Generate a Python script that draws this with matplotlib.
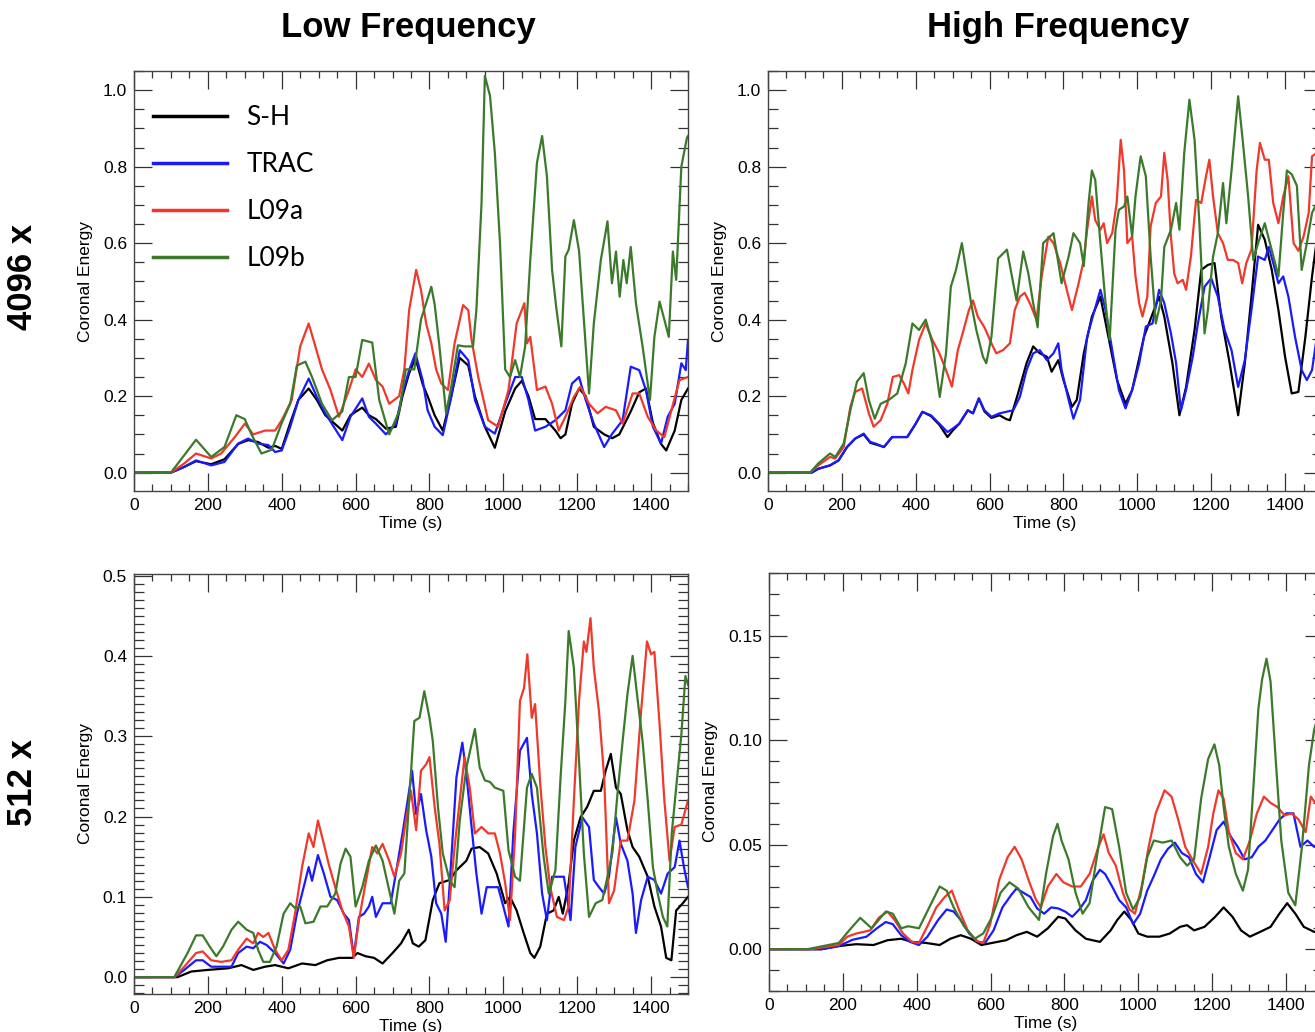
import matplotlib
matplotlib.use("Agg")
import matplotlib.pyplot as plt
from matplotlib.ticker import MultipleLocator, FormatStrFormatter

plt.rcParams['font.family'] = ['Liberation Sans', 'DejaVu Sans']

labels = ['S-H', 'TRAC', 'L09a', 'L09b']
colors = ['#000000', '#1a1aff', '#f0382b', '#3b7a2a']

# (time [s], coronal energy) samples, low frequency heating, 4096 x
lf4096_sh = [(0, 0), (100, 0), (136, 0.015), (168, 0.03), (209, 0.022), (245, 0.035), (282, 0.075), (309, 0.085),
             (336, 0.08), (364, 0.065), (382, 0.07), (400, 0.062), (423, 0.13), (445, 0.19), (473, 0.22), (495, 0.19),
             (518, 0.15), (541, 0.13), (564, 0.11), (586, 0.15), (618, 0.17), (636, 0.15), (655, 0.14), (682, 0.115),
             (709, 0.12), (727, 0.2), (745, 0.26), (762, 0.3), (782, 0.23), (795, 0.2), (814, 0.15), (836, 0.11),
             (859, 0.2), (882, 0.3), (905, 0.28), (923, 0.2), (950, 0.12), (977, 0.065), (1005, 0.16), (1032, 0.22),
             (1050, 0.24), (1068, 0.2), (1086, 0.14), (1114, 0.14), (1141, 0.11), (1155, 0.09), (1168, 0.1),
             (1186, 0.18), (1205, 0.22), (1223, 0.2), (1245, 0.12), (1273, 0.1), (1295, 0.09), (1314, 0.1),
             (1345, 0.16), (1368, 0.21), (1386, 0.22), (1405, 0.13), (1427, 0.075), (1441, 0.058), (1464, 0.11),
             (1482, 0.19), (1500, 0.22)]
lf4096_trac = [(0, 0), (100, 0), (136, 0.015), (168, 0.032), (209, 0.019), (245, 0.028), (282, 0.076), (309, 0.089),
               (336, 0.076), (364, 0.072), (382, 0.054), (400, 0.058), (423, 0.12), (445, 0.19), (473, 0.246),
               (495, 0.198), (518, 0.155), (541, 0.12), (564, 0.085), (586, 0.146), (618, 0.194), (636, 0.146),
               (655, 0.128), (682, 0.10), (709, 0.128), (727, 0.207), (745, 0.268), (762, 0.312), (782, 0.24),
               (795, 0.163), (814, 0.12), (836, 0.098), (859, 0.198), (882, 0.32), (905, 0.294), (923, 0.19),
               (950, 0.12), (977, 0.102), (1005, 0.18), (1032, 0.25), (1050, 0.25), (1068, 0.19), (1086, 0.11),
               (1114, 0.12), (1141, 0.137), (1168, 0.163), (1186, 0.233), (1205, 0.25), (1223, 0.19), (1245, 0.128),
               (1273, 0.067), (1295, 0.102), (1323, 0.137), (1345, 0.277), (1368, 0.268), (1386, 0.216), (1405, 0.12),
               (1427, 0.076), (1445, 0.146), (1464, 0.18), (1482, 0.286), (1494, 0.268), (1500, 0.347)]
lf4096_l09a = [(0, 0), (100, 0), (136, 0.024), (168, 0.05), (209, 0.037), (236, 0.05), (273, 0.093), (300, 0.128),
               (323, 0.10), (355, 0.11), (382, 0.11), (400, 0.137), (427, 0.19), (450, 0.33), (473, 0.39), (491, 0.33),
               (509, 0.27), (532, 0.216), (555, 0.146), (582, 0.216), (600, 0.27), (618, 0.25), (636, 0.285),
               (655, 0.242), (673, 0.225), (691, 0.18), (718, 0.20), (732, 0.27), (745, 0.425), (764, 0.53),
               (777, 0.478), (791, 0.39), (805, 0.338), (818, 0.27), (832, 0.233), (850, 0.216), (868, 0.338),
               (891, 0.438), (905, 0.425), (914, 0.347), (932, 0.25), (959, 0.137), (986, 0.12), (1014, 0.216),
               (1036, 0.39), (1057, 0.443), (1064, 0.338), (1073, 0.355), (1091, 0.216), (1114, 0.225), (1132, 0.18),
               (1150, 0.11), (1168, 0.146), (1191, 0.198), (1209, 0.225), (1232, 0.18), (1255, 0.155), (1277, 0.172),
               (1305, 0.163), (1323, 0.128), (1350, 0.207), (1368, 0.207), (1391, 0.146), (1414, 0.11), (1436, 0.093),
               (1455, 0.163), (1477, 0.242), (1500, 0.25)]
lf4096_l09b = [(0, 0), (100, 0), (168, 0.086), (209, 0.041), (245, 0.067), (277, 0.15), (300, 0.14), (318, 0.10),
               (345, 0.05), (373, 0.06), (400, 0.13), (423, 0.18), (441, 0.28), (464, 0.29), (482, 0.25), (509, 0.18),
               (536, 0.137), (564, 0.16), (582, 0.25), (600, 0.25), (618, 0.347), (645, 0.34), (664, 0.19),
               (691, 0.10), (718, 0.16), (736, 0.27), (759, 0.27), (777, 0.40), (805, 0.486), (814, 0.44), (827, 0.33),
               (845, 0.155), (859, 0.225), (877, 0.333), (895, 0.33), (918, 0.33), (927, 0.425), (941, 0.705),
               (950, 1.037), (964, 0.985), (977, 0.836), (991, 0.60), (1005, 0.27), (1018, 0.25), (1032, 0.294),
               (1045, 0.25), (1059, 0.33), (1073, 0.556), (1091, 0.81), (1105, 0.88), (1118, 0.775), (1132, 0.53),
               (1143, 0.434), (1157, 0.33), (1168, 0.565), (1177, 0.583), (1191, 0.66), (1205, 0.58), (1218, 0.40),
               (1232, 0.207), (1245, 0.39), (1264, 0.556), (1282, 0.657), (1294, 0.495), (1305, 0.578), (1315, 0.46),
               (1325, 0.556), (1334, 0.495), (1345, 0.59), (1359, 0.443), (1377, 0.33), (1397, 0.19), (1409, 0.355),
               (1423, 0.447), (1436, 0.40), (1448, 0.355), (1459, 0.578), (1468, 0.504), (1482, 0.80), (1497, 0.875),
               (1500, 0.88)]

# high frequency heating, 4096 x
hf4096_sh = [(0, 0), (118, 0), (136, 0.01), (168, 0.019), (191, 0.032), (214, 0.067), (236, 0.089), (259, 0.10),
             (277, 0.078), (291, 0.074), (314, 0.067), (336, 0.093), (359, 0.093), (377, 0.093), (400, 0.128),
             (418, 0.159), (441, 0.148), (464, 0.125), (486, 0.093), (500, 0.11), (518, 0.128), (541, 0.163),
             (555, 0.155), (571, 0.194), (586, 0.16), (605, 0.143), (627, 0.15), (645, 0.14), (655, 0.137),
             (677, 0.207), (700, 0.286), (718, 0.33), (736, 0.312), (755, 0.303), (768, 0.264), (786, 0.294),
             (800, 0.242), (823, 0.172), (836, 0.19), (855, 0.312), (877, 0.408), (900, 0.46), (918, 0.373),
             (945, 0.242), (968, 0.18), (986, 0.216), (1018, 0.355), (1045, 0.425), (1059, 0.46), (1073, 0.408),
             (1095, 0.286), (1114, 0.15), (1132, 0.224), (1155, 0.373), (1173, 0.53), (1191, 0.543), (1209, 0.548),
             (1227, 0.408), (1250, 0.286), (1273, 0.15), (1291, 0.286), (1309, 0.46), (1327, 0.648), (1345, 0.609),
             (1364, 0.53), (1382, 0.425), (1400, 0.303), (1418, 0.207), (1436, 0.211), (1455, 0.355), (1473, 0.513),
             (1486, 0.609), (1500, 0.65)]
hf4096_trac = [(0, 0), (118, 0), (136, 0.01), (168, 0.019), (191, 0.032), (214, 0.067), (236, 0.089), (259, 0.102),
               (277, 0.08), (291, 0.076), (314, 0.067), (336, 0.093), (359, 0.093), (377, 0.093), (400, 0.128),
               (418, 0.159), (441, 0.15), (464, 0.128), (486, 0.106), (500, 0.115), (518, 0.128), (541, 0.163),
               (555, 0.155), (571, 0.194), (586, 0.163), (605, 0.146), (627, 0.155), (645, 0.159), (664, 0.163),
               (682, 0.198), (700, 0.268), (718, 0.312), (736, 0.32), (755, 0.294), (773, 0.312), (786, 0.338),
               (795, 0.268), (814, 0.19), (827, 0.141), (845, 0.19), (864, 0.355), (882, 0.417), (900, 0.478),
               (914, 0.425), (932, 0.32), (950, 0.216), (968, 0.168), (986, 0.216), (1005, 0.286), (1023, 0.382),
               (1041, 0.39), (1059, 0.478), (1073, 0.443), (1091, 0.364), (1105, 0.286), (1118, 0.163), (1132, 0.216),
               (1150, 0.303), (1164, 0.39), (1182, 0.486), (1200, 0.508), (1218, 0.46), (1236, 0.373), (1255, 0.32),
               (1273, 0.224), (1291, 0.294), (1309, 0.425), (1327, 0.565), (1345, 0.556), (1356, 0.59), (1368, 0.548),
               (1382, 0.495), (1395, 0.513), (1409, 0.46), (1427, 0.355), (1445, 0.268), (1459, 0.242), (1473, 0.268),
               (1486, 0.355), (1500, 0.40)]
hf4096_l09a = [(0, 0), (114, 0), (136, 0.019), (168, 0.041), (182, 0.037), (205, 0.067), (223, 0.172), (236, 0.211),
               (255, 0.22), (273, 0.155), (286, 0.12), (305, 0.137), (323, 0.18), (338, 0.25), (355, 0.255),
               (368, 0.233), (380, 0.207), (391, 0.268), (409, 0.347), (427, 0.39), (445, 0.347), (464, 0.312),
               (482, 0.268), (498, 0.225), (514, 0.32), (527, 0.364), (544, 0.425), (555, 0.45), (568, 0.408),
               (586, 0.38), (605, 0.338), (618, 0.312), (636, 0.32), (655, 0.338), (668, 0.425), (682, 0.46),
               (695, 0.47), (709, 0.443), (727, 0.40), (741, 0.513), (759, 0.617), (773, 0.60), (791, 0.548),
               (809, 0.478), (823, 0.425), (841, 0.495), (855, 0.556), (864, 0.635), (877, 0.722), (886, 0.66),
               (900, 0.635), (909, 0.652), (918, 0.60), (932, 0.626), (944, 0.705), (955, 0.87), (964, 0.79),
               (973, 0.60), (986, 0.617), (995, 0.513), (1005, 0.443), (1014, 0.408), (1027, 0.46), (1036, 0.644),
               (1050, 0.705), (1064, 0.722), (1073, 0.836), (1082, 0.765), (1091, 0.617), (1100, 0.52), (1109, 0.495),
               (1123, 0.504), (1132, 0.478), (1145, 0.565), (1159, 0.713), (1173, 0.705), (1186, 0.775), (1195, 0.818),
               (1205, 0.722), (1218, 0.626), (1232, 0.60), (1245, 0.556), (1259, 0.556), (1273, 0.548), (1284, 0.495),
               (1295, 0.548), (1309, 0.583), (1323, 0.79), (1332, 0.862), (1345, 0.818), (1356, 0.818), (1368, 0.705),
               (1382, 0.652), (1395, 0.722), (1409, 0.775), (1423, 0.60), (1436, 0.58), (1450, 0.617), (1464, 0.679),
               (1473, 0.827), (1486, 0.836), (1500, 0.83)]
hf4096_l09b = [(0, 0), (114, 0), (136, 0.024), (168, 0.05), (182, 0.041), (205, 0.076), (223, 0.163), (241, 0.238),
               (259, 0.26), (273, 0.19), (289, 0.141), (305, 0.18), (327, 0.19), (350, 0.207), (373, 0.286),
               (391, 0.39), (409, 0.373), (427, 0.40), (445, 0.338), (465, 0.198), (482, 0.312), (495, 0.486),
               (509, 0.53), (525, 0.60), (536, 0.53), (550, 0.443), (564, 0.373), (582, 0.303), (591, 0.286),
               (605, 0.355), (623, 0.56), (647, 0.583), (664, 0.495), (673, 0.45), (691, 0.578), (705, 0.52),
               (718, 0.443), (730, 0.38), (745, 0.60), (773, 0.626), (795, 0.495), (814, 0.565), (827, 0.626),
               (845, 0.60), (855, 0.54), (868, 0.705), (877, 0.79), (886, 0.765), (900, 0.60), (914, 0.443),
               (925, 0.347), (941, 0.635), (950, 0.687), (964, 0.696), (973, 0.722), (986, 0.617), (995, 0.722),
               (1009, 0.827), (1023, 0.775), (1036, 0.565), (1050, 0.39), (1064, 0.45), (1073, 0.59), (1091, 0.635),
               (1105, 0.705), (1114, 0.635), (1127, 0.836), (1141, 0.975), (1155, 0.87), (1168, 0.652), (1182, 0.364),
               (1191, 0.425), (1205, 0.565), (1218, 0.626), (1232, 0.757), (1241, 0.652), (1255, 0.79), (1273, 0.984),
               (1286, 0.862), (1300, 0.722), (1314, 0.556), (1327, 0.60), (1345, 0.652), (1359, 0.60), (1373, 0.548),
               (1382, 0.513), (1395, 0.679), (1405, 0.79), (1418, 0.78), (1432, 0.75), (1445, 0.53), (1459, 0.60),
               (1473, 0.679), (1486, 0.705), (1500, 0.71)]

# low frequency heating, 512 x
lf512_sh = [(0, 0), (118, 0), (155, 0.007), (200, 0.009), (255, 0.011), (291, 0.015), (323, 0.009), (355, 0.013),
            (382, 0.015), (418, 0.011), (455, 0.017), (491, 0.015), (523, 0.021), (555, 0.024), (591, 0.024),
            (605, 0.03), (627, 0.026), (650, 0.024), (673, 0.017), (700, 0.03), (723, 0.042), (744, 0.059),
            (755, 0.042), (771, 0.038), (789, 0.046), (809, 0.096), (827, 0.117), (855, 0.121), (873, 0.133),
            (900, 0.145), (914, 0.16), (936, 0.162), (959, 0.154), (982, 0.129), (1005, 0.092), (1018, 0.1),
            (1036, 0.083), (1055, 0.055), (1073, 0.03), (1084, 0.024), (1100, 0.038), (1118, 0.079), (1136, 0.083),
            (1150, 0.1), (1161, 0.079), (1177, 0.117), (1191, 0.17), (1209, 0.199), (1227, 0.212), (1245, 0.232),
            (1264, 0.232), (1277, 0.257), (1291, 0.278), (1305, 0.236), (1318, 0.228), (1336, 0.183), (1350, 0.162),
            (1368, 0.15), (1391, 0.125), (1409, 0.088), (1427, 0.063), (1441, 0.024), (1455, 0.021), (1468, 0.083),
            (1486, 0.092), (1500, 0.1)]
lf512_trac = [(0, 0), (110, 0), (136, 0.009), (168, 0.021), (186, 0.021), (209, 0.013), (236, 0.013), (264, 0.013),
              (282, 0.03), (305, 0.038), (323, 0.036), (341, 0.044), (359, 0.04), (382, 0.03), (405, 0.017),
              (423, 0.034), (441, 0.079), (455, 0.104), (473, 0.137), (482, 0.12), (498, 0.152), (514, 0.129),
              (532, 0.1), (550, 0.096), (568, 0.079), (582, 0.071), (595, 0.026), (609, 0.075), (623, 0.079),
              (636, 0.088), (645, 0.1), (655, 0.075), (673, 0.092), (695, 0.092), (709, 0.129), (727, 0.179),
              (741, 0.22), (753, 0.257), (764, 0.203), (777, 0.228), (791, 0.183), (805, 0.15), (818, 0.092),
              (832, 0.079), (844, 0.044), (855, 0.117), (873, 0.249), (889, 0.292), (900, 0.253), (914, 0.187),
              (927, 0.129), (941, 0.079), (955, 0.112), (973, 0.112), (986, 0.112), (1000, 0.088), (1014, 0.063),
              (1027, 0.179), (1045, 0.282), (1064, 0.298), (1077, 0.228), (1091, 0.179), (1105, 0.104), (1118, 0.071),
              (1132, 0.125), (1145, 0.125), (1164, 0.125), (1182, 0.071), (1195, 0.162), (1214, 0.199), (1232, 0.187),
              (1245, 0.121), (1259, 0.112), (1273, 0.104), (1286, 0.125), (1305, 0.199), (1318, 0.166), (1336, 0.145),
              (1350, 0.104), (1359, 0.055), (1373, 0.096), (1391, 0.125), (1409, 0.121), (1427, 0.104), (1445, 0.129),
              (1464, 0.137), (1477, 0.17), (1489, 0.137), (1500, 0.112)]
lf512_l09a = [(0, 0), (110, 0), (136, 0.013), (168, 0.03), (186, 0.032), (209, 0.021), (236, 0.019), (264, 0.021),
              (282, 0.034), (305, 0.048), (323, 0.042), (336, 0.055), (350, 0.05), (364, 0.055), (382, 0.034),
              (400, 0.021), (418, 0.034), (436, 0.079), (455, 0.137), (473, 0.179), (486, 0.162), (498, 0.195),
              (514, 0.166), (527, 0.141), (545, 0.112), (564, 0.083), (582, 0.063), (595, 0.024), (609, 0.071),
              (627, 0.117), (645, 0.162), (659, 0.154), (673, 0.166), (691, 0.145), (705, 0.125), (723, 0.154),
              (736, 0.195), (750, 0.232), (764, 0.183), (777, 0.257), (791, 0.265), (800, 0.274), (814, 0.212),
              (827, 0.166), (841, 0.083), (855, 0.096), (868, 0.162), (882, 0.22), (895, 0.274), (909, 0.236),
              (923, 0.179), (941, 0.187), (959, 0.179), (977, 0.179), (991, 0.154), (1005, 0.117), (1018, 0.071),
              (1032, 0.179), (1045, 0.344), (1056, 0.36), (1065, 0.402), (1077, 0.323), (1086, 0.34), (1100, 0.24),
              (1114, 0.162), (1127, 0.112), (1145, 0.075), (1164, 0.071), (1177, 0.088), (1191, 0.22), (1205, 0.344),
              (1218, 0.418), (1225, 0.405), (1236, 0.447), (1245, 0.385), (1259, 0.331), (1273, 0.249), (1286, 0.092),
              (1300, 0.108), (1318, 0.17), (1336, 0.17), (1355, 0.22), (1373, 0.331), (1389, 0.418), (1400, 0.402),
              (1409, 0.405), (1423, 0.315), (1436, 0.22), (1450, 0.145), (1464, 0.187), (1482, 0.19), (1500, 0.22)]
lf512_l09b = [(0, 0), (109, 0), (145, 0.03), (168, 0.052), (186, 0.052), (205, 0.038), (223, 0.026), (241, 0.038),
              (264, 0.059), (282, 0.069), (305, 0.059), (323, 0.055), (336, 0.034), (350, 0.019), (368, 0.019),
              (386, 0.038), (405, 0.079), (423, 0.092), (436, 0.086), (450, 0.088), (464, 0.067), (486, 0.069),
              (505, 0.088), (523, 0.088), (545, 0.104), (559, 0.141), (573, 0.16), (586, 0.15), (600, 0.088),
              (618, 0.112), (636, 0.145), (655, 0.164), (673, 0.145), (691, 0.108), (705, 0.079), (718, 0.12),
              (732, 0.129), (745, 0.22), (759, 0.319), (773, 0.323), (786, 0.356), (800, 0.323), (809, 0.294),
              (823, 0.212), (836, 0.154), (855, 0.12), (868, 0.112), (882, 0.195), (900, 0.261), (923, 0.309),
              (936, 0.261), (950, 0.245), (964, 0.243), (977, 0.236), (1000, 0.232), (1014, 0.158), (1032, 0.125),
              (1045, 0.12), (1064, 0.236), (1077, 0.253), (1091, 0.236), (1109, 0.15), (1123, 0.104), (1141, 0.133),
              (1155, 0.249), (1168, 0.344), (1177, 0.431), (1191, 0.385), (1205, 0.269), (1218, 0.154), (1232, 0.075),
              (1250, 0.092), (1268, 0.096), (1282, 0.125), (1295, 0.154), (1309, 0.228), (1323, 0.294), (1336, 0.352),
              (1350, 0.40), (1364, 0.344), (1377, 0.294), (1391, 0.22), (1405, 0.137), (1418, 0.104), (1432, 0.075),
              (1444, 0.063), (1456, 0.179), (1468, 0.236), (1482, 0.302), (1493, 0.375), (1500, 0.364)]

# high frequency heating, 512 x
hf512_sh = [(0, 0), (142, 0), (189, 0.0015), (236, 0.0024), (283, 0.002), (321, 0.0043), (358, 0.005), (387, 0.0035),
            (425, 0.003), (462, 0.002), (491, 0.005), (519, 0.0067), (547, 0.005), (575, 0.002), (604, 0.003),
            (642, 0.0043), (670, 0.0067), (698, 0.0083), (726, 0.006), (755, 0.01), (783, 0.0155), (802, 0.0147),
            (830, 0.009), (858, 0.005), (896, 0.0035), (925, 0.009), (943, 0.014), (962, 0.018), (981, 0.014),
            (1000, 0.0075), (1024, 0.006), (1057, 0.006), (1085, 0.0075), (1113, 0.0107), (1132, 0.0115),
            (1151, 0.009), (1179, 0.0107), (1208, 0.0155), (1231, 0.02), (1255, 0.0155), (1278, 0.009), (1302, 0.006),
            (1330, 0.0083), (1358, 0.0107), (1382, 0.017), (1403, 0.022), (1425, 0.017), (1448, 0.0107),
            (1476, 0.0083), (1500, 0.008)]
hf512_trac = [(0, 0), (142, 0), (189, 0.0015), (226, 0.0045), (264, 0.006), (292, 0.01), (316, 0.013), (335, 0.012),
              (358, 0.0067), (382, 0.0035), (406, 0.002), (429, 0.006), (458, 0.014), (481, 0.019), (500, 0.018),
              (519, 0.014), (542, 0.0075), (566, 0.0035), (585, 0.003), (608, 0.009), (632, 0.02), (656, 0.026),
              (670, 0.029), (689, 0.027), (708, 0.025), (726, 0.0195), (745, 0.017), (764, 0.02), (783, 0.0195),
              (802, 0.018), (821, 0.0155), (840, 0.019), (858, 0.0235), (877, 0.033), (896, 0.038), (910, 0.036),
              (929, 0.03), (948, 0.0235), (967, 0.02), (986, 0.012), (1005, 0.017), (1024, 0.028), (1042, 0.035),
              (1061, 0.043), (1080, 0.048), (1099, 0.051), (1118, 0.046), (1137, 0.044), (1156, 0.036), (1175, 0.032),
              (1193, 0.044), (1212, 0.057), (1231, 0.061), (1250, 0.054), (1269, 0.049), (1288, 0.043), (1307, 0.044),
              (1325, 0.049), (1344, 0.052), (1363, 0.057), (1382, 0.062), (1401, 0.065), (1420, 0.065), (1439, 0.049),
              (1458, 0.052), (1476, 0.049), (1500, 0.05)]
hf512_l09a = [(0, 0), (113, 0), (189, 0.002), (212, 0.006), (236, 0.0075), (274, 0.009), (297, 0.015), (321, 0.018),
              (340, 0.014), (363, 0.0075), (387, 0.0035), (406, 0.003), (429, 0.011), (453, 0.02), (476, 0.025),
              (495, 0.028), (514, 0.019), (538, 0.009), (561, 0.004), (580, 0.003), (599, 0.012), (623, 0.033),
              (646, 0.044), (665, 0.049), (684, 0.043), (703, 0.033), (722, 0.024), (736, 0.02), (755, 0.03),
              (778, 0.036), (797, 0.032), (821, 0.03), (844, 0.03), (868, 0.036), (892, 0.049), (906, 0.055),
              (920, 0.046), (939, 0.04), (958, 0.027), (976, 0.019), (991, 0.017), (1009, 0.03), (1028, 0.049),
              (1047, 0.065), (1071, 0.076), (1090, 0.073), (1108, 0.062), (1127, 0.049), (1146, 0.043), (1170, 0.036),
              (1189, 0.049), (1203, 0.065), (1217, 0.076), (1231, 0.072), (1245, 0.056), (1264, 0.046), (1283, 0.043),
              (1302, 0.052), (1321, 0.065), (1340, 0.073), (1358, 0.07), (1377, 0.068), (1396, 0.064), (1415, 0.065),
              (1434, 0.062), (1453, 0.056), (1467, 0.073), (1479, 0.07), (1500, 0.068)]
hf512_l09b = [(0, 0), (104, 0), (189, 0.003), (217, 0.009), (247, 0.015), (278, 0.01), (316, 0.018), (335, 0.017),
              (358, 0.01), (377, 0.011), (406, 0.01), (434, 0.02), (462, 0.03), (481, 0.028), (500, 0.02), (528, 0.011),
              (557, 0.005), (580, 0.0075), (604, 0.0155), (627, 0.027), (651, 0.032), (675, 0.029), (703, 0.02),
              (731, 0.014), (750, 0.036), (769, 0.054), (781, 0.06), (792, 0.052), (811, 0.043), (830, 0.027),
              (849, 0.017), (868, 0.022), (892, 0.049), (910, 0.068), (929, 0.067), (948, 0.049), (967, 0.027),
              (986, 0.019), (1005, 0.025), (1024, 0.044), (1042, 0.052), (1066, 0.051), (1090, 0.052), (1113, 0.044),
              (1132, 0.04), (1151, 0.043), (1170, 0.072), (1189, 0.091), (1206, 0.098), (1219, 0.088), (1231, 0.068),
              (1245, 0.049), (1264, 0.036), (1283, 0.028), (1297, 0.038), (1311, 0.076), (1325, 0.115), (1335, 0.129),
              (1347, 0.139), (1358, 0.128), (1373, 0.088), (1387, 0.052), (1406, 0.027), (1425, 0.021), (1443, 0.049),
              (1462, 0.088), (1476, 0.105), (1500, 0.12)]

W, H = 1315, 1032
fig = plt.figure(figsize=(W / 100, H / 100), dpi=100)


def px_rect(left, top, right, bottom):
    return [left / W, 1 - bottom / H, (right - left) / W, (bottom - top) / H]


def panel(rect, series, ylim, ymajor, yminor, yfmt):
    ax = fig.add_axes(rect)
    for pts, c, lab in zip(series, colors, labels):
        t = [p[0] for p in pts]
        v = [p[1] for p in pts]
        ax.plot(t, v, color=c, lw=1.6, label=lab)
    ax.set_xlim(0, 1500)
    ax.set_ylim(*ylim)
    ax.xaxis.set_major_locator(MultipleLocator(200))
    ax.xaxis.set_minor_locator(MultipleLocator(50))
    ax.yaxis.set_major_locator(MultipleLocator(ymajor))
    ax.yaxis.set_minor_locator(MultipleLocator(yminor))
    ax.yaxis.set_major_formatter(FormatStrFormatter(yfmt))
    ax.tick_params(which='both', direction='in', top=True, right=True,
                   color='#333333', width=0.9, labelsize=12.5, pad=5)
    ax.tick_params(which='major', length=13)
    ax.tick_params(axis='x', which='minor', length=5)
    ax.tick_params(axis='y', which='minor', length=7)
    for s in ax.spines.values():
        s.set_color('#444444')
        s.set_linewidth(1.0)
    ax.set_xlabel('Time (s)', fontsize=12.5, labelpad=2)
    ax.set_ylabel('Coronal Energy', fontsize=12.5, labelpad=7)
    return ax


ax_tl = panel(px_rect(134, 71, 688, 491), [lf4096_sh, lf4096_trac, lf4096_l09a, lf4096_l09b],
              (-0.048, 1.05), 0.2, 0.05, '%.1f')
ax_tr = panel(px_rect(768, 71, 1322, 491), [hf4096_sh, hf4096_trac, hf4096_l09a, hf4096_l09b],
              (-0.048, 1.05), 0.2, 0.05, '%.1f')
ax_bl = panel(px_rect(134, 574, 688, 994), [lf512_sh, lf512_trac, lf512_l09a, lf512_l09b],
              (-0.021, 0.502), 0.1, 0.01, '%.1f')
ax_br = panel(px_rect(769, 573, 1323, 991), [hf512_sh, hf512_trac, hf512_l09a, hf512_l09b],
              (-0.02, 0.18), 0.05, 0.01, '%.2f')

ax_tl.legend(loc='upper left', bbox_to_anchor=(0.034, 0.918), frameon=False,
             prop={'family': ['Lato', 'DejaVu Sans'], 'size': 19},
             handlelength=2.8, handletextpad=0.75, labelspacing=0.83, borderpad=0, borderaxespad=0)
for line in ax_tl.get_legend().get_lines():
    line.set_linewidth(2.5)

title_kw = dict(ha='center', va='center', fontsize=25, fontweight='bold')
fig.text(408 / W, 1 - 28 / H, 'Low Frequency', **title_kw)
fig.text(1058 / W, 1 - 28 / H, 'High Frequency', **title_kw)
fig.text(23 / W, 1 - 277 / H, '4096 x', rotation=90, **title_kw)
fig.text(23 / W, 1 - 783 / H, '512 x', rotation=90, **title_kw)

fig.savefig('out.png', dpi=100)
